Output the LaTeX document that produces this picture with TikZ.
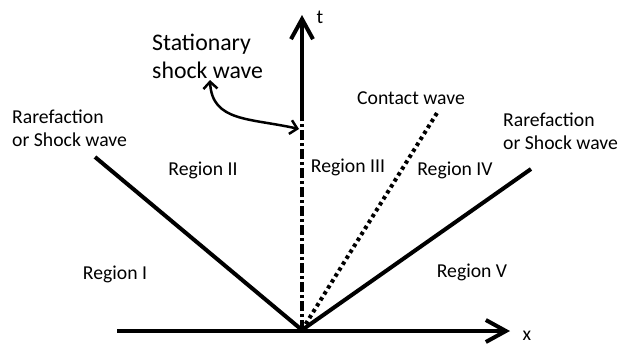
\documentclass[tikz,border=0pt]{standalone}
\usepackage{fontspec}
\setmainfont{Carlito}
\usetikzlibrary{arrows.meta}
\begin{document}
\begin{tikzpicture}[x=1pt,y=-1pt,
  lbl/.style={inner sep=0pt,font=\fontsize{19.7}{23}\selectfont},
  biglbl/.style={inner sep=0pt,align=left,font=\fontsize{23.8}{28}\selectfont},
  wave/.style={line width=4pt},
  axisline/.style={line width=4pt},
  shockline/.style={line width=3.5pt,dash pattern=on 10pt off 3pt on 3pt off 3pt},
  contactline/.style={line width=4pt,dash pattern=on 3.5pt off 3.5pt},
  bigtip/.style={-{Straight Barb[length=20pt,width=22pt,line width=4pt]}},
  pointer/.style={line width=2.5pt,{Straight Barb[length=7pt,width=14pt]}-{Straight Barb[length=7pt,width=14pt]}}]
\useasboundingbox (0,0) rectangle (633,348);
% coordinates
\coordinate (O) at (302,330);
\coordinate (xstart) at (117,331);
\coordinate (xend) at (510,331);
\coordinate (tend) at (302,15);
\coordinate (tbreak) at (302,119);
\coordinate (Ltop) at (95,157);
\coordinate (Rtop) at (531,169);
\coordinate (Ctop) at (437,113);
\coordinate (pA) at (210,80);
\coordinate (pB) at (299,129);
% axes
\draw[axisline,bigtip] (xstart) -- (xend);
\draw[shockline] (O) -- (tbreak);
\draw[axisline,bigtip] (tbreak) -- (tend);
% waves
\draw[wave] (Ltop) -- (O);
\draw[wave] (O) -- (Rtop);
\draw[contactline] (O) -- (Ctop);
% pointer
\draw[pointer] (pA) .. controls (212,122) and (250,118) .. (pB);
% labels
\node[lbl] (tl) at (320,17) {t};
\node[lbl] (xl) at (527,336) {x};
\node[biglbl,anchor=west] (stat) at (152,56) {Stationary\\shock wave};
\node[lbl,align=left,anchor=west] (rl) at (12,128) {Rarefaction\\or Shock wave};
\node[lbl,align=left,anchor=west] (rr) at (503,131) {Rarefaction\\or Shock wave};
\node[lbl] (cw) at (411,98) {Contact wave};
\node[lbl] (r1) at (115,274) {Region I};
\node[lbl] (r2) at (203,170) {Region II};
\node[lbl] (r3) at (348,167) {Region III};
\node[lbl] (r4) at (455,170) {Region IV};
\node[lbl] (r5) at (472,272) {Region V};
\end{tikzpicture}
\end{document}
